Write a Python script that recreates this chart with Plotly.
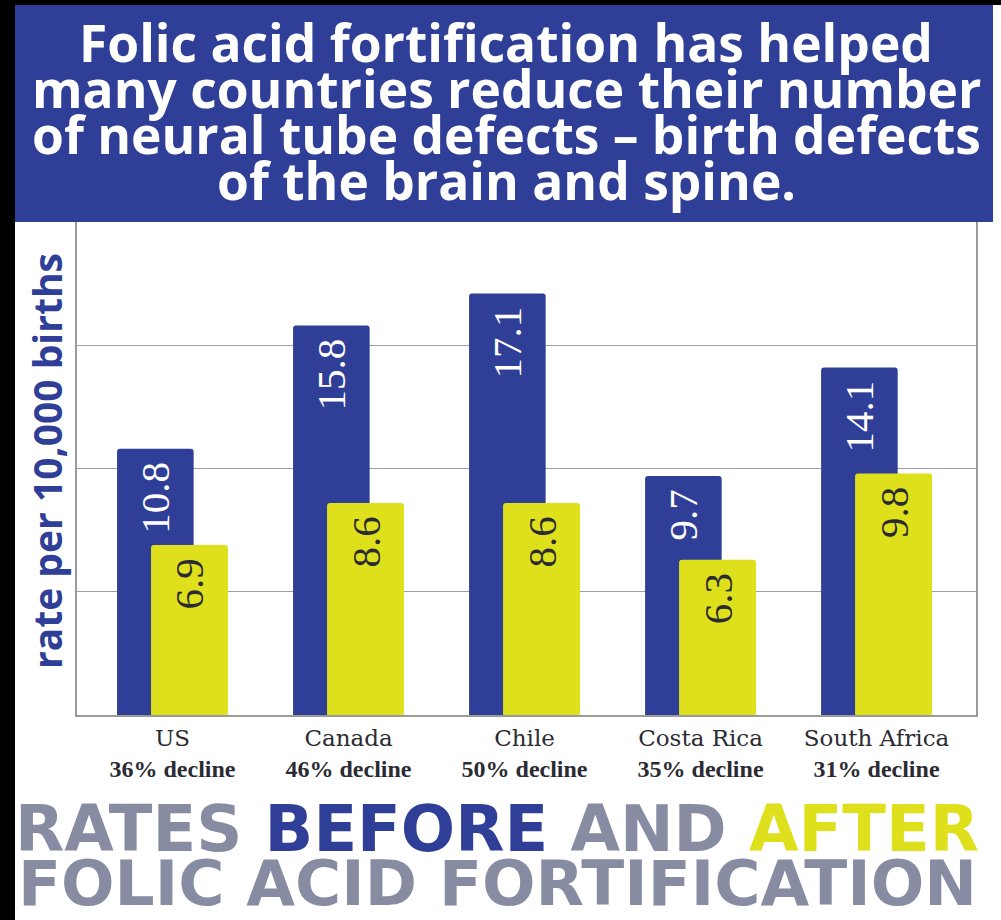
import plotly.graph_objects as go

# Neural tube defect rates per 10,000 births, before and after fortification
countries = ["US", "Canada", "Chile", "Costa Rica", "South Africa"]
before = [10.8, 15.8, 17.1, 9.7, 14.1]
after = [6.9, 8.6, 8.6, 6.3, 9.8]
declines = ["36%", "46%", "50%", "35%", "31%"]

title_lines = [
    "Folic acid fortification has helped",
    "many countries reduce their number",
    "of neural tube defects \u2013 birth defects",
    "of the brain and spine.",
]
y_title = "rate per 10,000 births"

BLUE = "#2f3e96"
YELLOW = "#dfe01c"
GRAY = "#878ca3"
INK = "#2b2b33"

# canvas and plot-area geometry (pixels)
W, H = 1001, 920
ML, MR, MT, MB = 77, 25, 222, 205
PW, PH = W - ML - MR, H - MT - MB


def px_x(px):
    return (px - ML) / PW


def px_y(py):
    return (H - MB - py) / PH


fig = go.Figure()

fig.add_trace(go.Bar(
    x=countries, y=before, name="Before",
    marker=dict(color=BLUE, line=dict(width=0)),
    offset=-0.315, width=0.435,
    text=before, texttemplate="%{y:.1f}&nbsp;",
    textposition="inside", insidetextanchor="end", textangle=-90,
    insidetextfont=dict(family="Liberation Serif", size=41, color="white"),
    hoverinfo="skip",
))
fig.add_trace(go.Bar(
    x=countries, y=after, name="After",
    marker=dict(color=YELLOW, line=dict(width=0)),
    offset=-0.122, width=0.437,
    text=after, texttemplate="%{y:.1f}&nbsp;",
    textposition="inside", insidetextanchor="end", textangle=-90,
    insidetextfont=dict(family="Liberation Serif", size=41, color=INK),
    hoverinfo="skip",
))

ticktext = [
    f"<span style='font-family:DejaVu Serif;font-size:23px'>{c}</span><br><b>{d} decline</b>"
    for c, d in zip(countries, declines)
]

shapes = [
    # dark frame on the left and top edges
    dict(type="rect", xref="paper", yref="paper", layer="below",
         x0=px_x(0), x1=px_x(15), y0=px_y(H), y1=px_y(0),
         fillcolor="black", line=dict(width=0)),
    dict(type="rect", xref="paper", yref="paper", layer="below",
         x0=px_x(0), x1=px_x(W), y0=px_y(5), y1=px_y(0),
         fillcolor="black", line=dict(width=0)),
    # headline banner
    dict(type="rect", xref="paper", yref="paper", layer="above",
         x0=px_x(15), x1=px_x(993), y0=px_y(222), y1=px_y(5),
         fillcolor=BLUE, line=dict(width=0)),
]

annotations = []
title_centers = [42, 88, 134, 180]
for line, cy in zip(title_lines, title_centers):
    annotations.append(dict(
        text=line, xref="paper", yref="paper", x=px_x(506), y=px_y(cy),
        xanchor="center", yanchor="middle", showarrow=False,
        font=dict(family="Open Sans", size=51.5, weight=700, color="white"),
    ))

annotations.append(dict(
    text=y_title, xref="paper", yref="paper", x=px_x(46), y=px_y(461),
    xanchor="center", yanchor="middle", showarrow=False, textangle=-90,
    font=dict(family="Open Sans", size=39, weight=700, color=BLUE),
))

footer = [
    (f"RATES <span style='color:{BLUE}'>BEFORE</span> AND "
     f"<span style='color:{YELLOW}'>AFTER</span>", 829, 64),
    ("FOLIC ACID FORTIFICATION", 883, 63),
]
for text, cy, size in footer:
    annotations.append(dict(
        text=text, xref="paper", yref="paper", x=px_x(497), y=px_y(cy),
        xanchor="center", yanchor="middle", showarrow=False,
        font=dict(family="DejaVu Sans", size=size, weight=700, color=GRAY),
    ))

fig.update_layout(
    width=W, height=H,
    margin=dict(l=ML, r=MR, t=MT, b=MB, pad=0),
    paper_bgcolor="white", plot_bgcolor="white",
    barmode="overlay", barcornerradius=3,
    showlegend=False,
    shapes=shapes, annotations=annotations,
    xaxis=dict(
        type="category", range=[-0.5426, 4.565],
        tickvals=countries, ticktext=ticktext,
        tickfont=dict(family="Liberation Serif", size=24, color=INK),
        showgrid=False, ticks="", showline=True, linecolor="#9a9a9a",
        linewidth=1.5, fixedrange=True,
    ),
    yaxis=dict(
        range=[0, 20], dtick=5, showticklabels=False, ticks="",
        showgrid=True, gridcolor="#a0a0a0", gridwidth=1,
        showline=True, linecolor="#9a9a9a", linewidth=1.5, mirror=True,
        zeroline=False, fixedrange=True,
    ),
)

fig.write_html("out.html", config={"displayModeBar": False})
